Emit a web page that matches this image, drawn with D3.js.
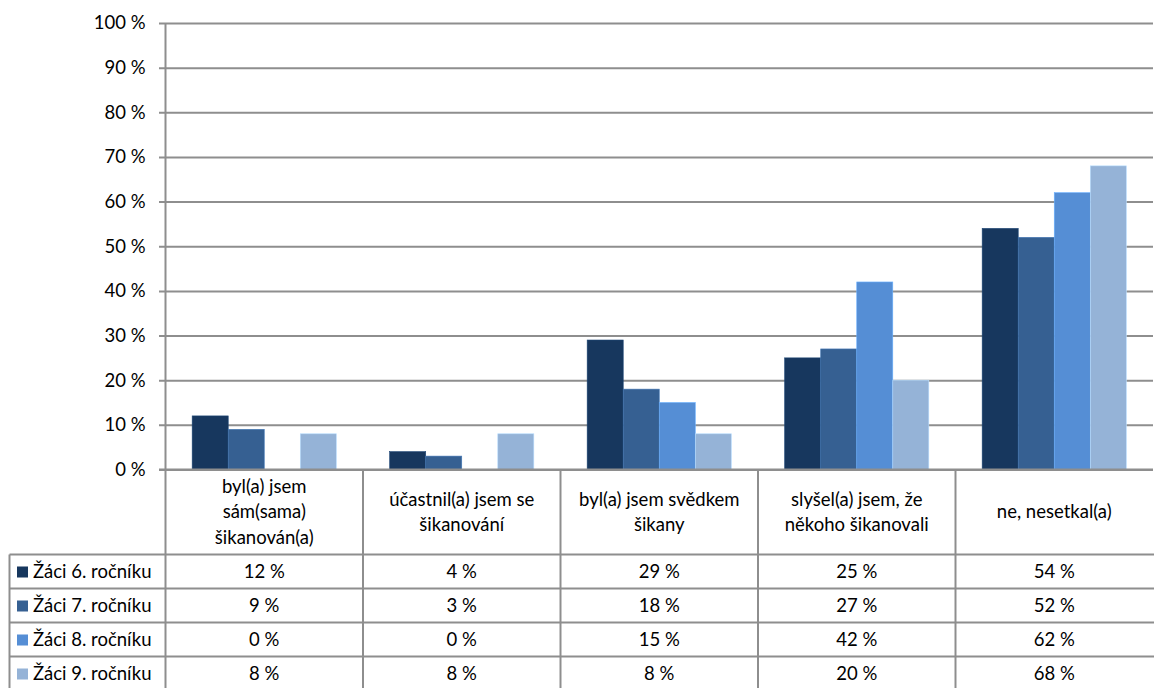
<!DOCTYPE html>
<html>
<head>
<meta charset="utf-8">
<script src="https://cdn.jsdelivr.net/npm/d3@7"></script>
<style>
  body { margin: 0; background: #fff; }
  svg text { font-family: Lato, "Open Sans", sans-serif; fill: #000; }
</style>
</head>
<body>
<div id="chart"></div>
<script>
// data
const categories = [
    ["byl(a) jsem", "sám(sama)", "šikanován(a)"],
    ["účastnil(a) jsem se", "šikanování"],
    ["byl(a) jsem svědkem", "šikany"],
    ["slyšel(a) jsem, že", "někoho šikanovali"],
    ["ne, nesetkal(a)"]
];
const seriesNames = ["Žáci 6. ročníku", "Žáci 7. ročníku", "Žáci 8. ročníku", "Žáci 9. ročníku"];
const grade6 = [12, 4, 29, 25, 54];
const grade7 = [9, 3, 18, 27, 52];
const grade8 = [0, 0, 15, 42, 62];
const grade9 = [8, 8, 8, 20, 68];
const yTicks = [0, 10, 20, 30, 40, 50, 60, 70, 80, 90, 100];
const colors = ["#17375e", "#366092", "#558ed5", "#95b3d7"];

const series = [grade6, grade7, grade8, grade9];

const W = 1154, H = 688;
const plotLeft = 165.5, plotRight = 1153, plotTop = 23, zeroY = 469.5;
const headerBottom = 554.5, rowH = 34;
const tableLeft = 9.5;
const lineColor = "#8e8e8e";
const fontSize = "18.5px";

const svg = d3.select("#chart").append("svg")
    .attr("width", W)
    .attr("height", H);

const x = d3.scaleBand()
    .domain(d3.range(categories.length))
    .range([plotLeft, plotRight]);

const x1 = d3.scaleBand()
    .domain(d3.range(series.length))
    .range([0, x.bandwidth()])
    .paddingOuter(0.74)
    .paddingInner(0);

const y = d3.scaleLinear()
    .domain([0, 100])
    .range([zeroY, plotTop]);

// gridlines + y axis
const yAxis = d3.axisLeft(y)
    .tickValues(yTicks)
    .tickSize(-(plotRight - plotLeft))
    .tickFormat(d => d + " %");

const gy = svg.append("g")
    .attr("transform", `translate(${plotLeft},0)`)
    .call(yAxis);
gy.select(".domain").remove();
gy.selectAll(".tick line")
    .attr("x1", -6.5)
    .attr("stroke", lineColor)
    .attr("stroke-width", 2);
gy.selectAll(".tick text")
    .attr("x", -20)
    .style("font-size", fontSize)
    .style("font-family", "Lato, sans-serif");

// bars
const groups = svg.append("g").selectAll("g")
    .data(categories.map((c, i) => i))
    .join("g")
    .attr("transform", i => `translate(${x(i)},0)`);

groups.selectAll("rect")
    .data(i => series.map((s, k) => ({ k: k, v: s[i] })))
    .join("rect")
    .attr("x", d => x1(d.k))
    .attr("width", x1.bandwidth())
    .attr("y", d => y(d.v))
    .attr("height", d => zeroY - y(d.v))
    .attr("fill", d => colors[d.k])
    .attr("stroke", d => d3.color(colors[d.k]).brighter(0.6))
    .attr("stroke-width", d => d.v > 0 ? 0.6 : 0);

// redraw zero line over bars
svg.append("line")
    .attr("x1", plotLeft - 6.5).attr("x2", plotRight)
    .attr("y1", zeroY).attr("y2", zeroY)
    .attr("stroke", lineColor).attr("stroke-width", 2);

// table lines
const tableBottom = H + 5;
const lines = svg.append("g")
    .attr("stroke", lineColor)
    .attr("stroke-width", 2);

// axis line / verticals
lines.append("line")
    .attr("x1", plotLeft).attr("x2", plotLeft)
    .attr("y1", plotTop).attr("y2", tableBottom);
categories.forEach((c, i) => {
    if (i === 0) return;
    lines.append("line")
        .attr("x1", x(i)).attr("x2", x(i))
        .attr("y1", zeroY).attr("y2", tableBottom);
});
lines.append("line")
    .attr("x1", tableLeft).attr("x2", tableLeft)
    .attr("y1", headerBottom).attr("y2", tableBottom);

seriesNames.forEach((s, r) => {
    const yy = headerBottom + r * rowH;
    lines.append("line")
        .attr("x1", tableLeft).attr("x2", plotRight + 2)
        .attr("y1", yy).attr("y2", yy);
});

// header labels
const lineH = 25.5;
const headerMid = (zeroY + headerBottom) / 2;
categories.forEach((c, i) => {
    const t = svg.append("text")
        .attr("text-anchor", "middle")
        .style("font-size", fontSize);
    c.forEach((ln, j) => {
        t.append("tspan")
            .attr("x", x(i) + x.bandwidth() / 2)
            .attr("y", headerMid + (j - (c.length - 1) / 2) * lineH)
            .attr("dy", "0.35em")
            .text(ln);
    });
});

// rows
seriesNames.forEach((name, r) => {
    const cy = headerBottom + r * rowH + rowH / 2;
    svg.append("rect")
        .attr("x", 17).attr("y", cy - 5)
        .attr("width", 11).attr("height", 11)
        .attr("fill", colors[r]);
    svg.append("text")
        .attr("x", 33).attr("y", cy)
        .attr("dy", "0.35em")
        .style("font-size", fontSize)
        .text(name);
    series[r].forEach((v, i) => {
        svg.append("text")
            .attr("x", x(i) + x.bandwidth() / 2)
            .attr("y", cy)
            .attr("dy", "0.35em")
            .attr("text-anchor", "middle")
            .style("font-size", fontSize)
            .text(v + " %");
    });
});
</script>
</body>
</html>
